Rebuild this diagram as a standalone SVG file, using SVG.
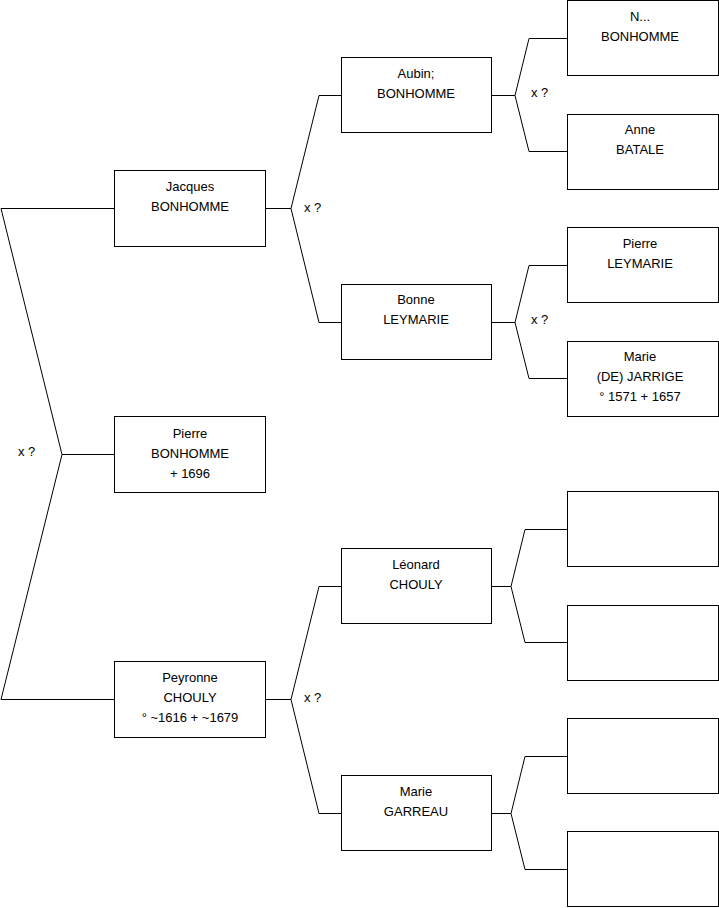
<svg xmlns="http://www.w3.org/2000/svg" width="719" height="908" viewBox="0 0 719 908">
<style>
.box{fill:#fff;stroke:#000;stroke-width:1}
.ln{fill:none;stroke:#000;stroke-width:1}
text{font-family:"Liberation Sans",Arial,sans-serif;font-size:13px;fill:#000}
.c{text-anchor:middle}
</style>
<rect width="719" height="908" fill="#fff"/>
<g id="connectors">
<polyline class="ln" points="114,208.5 1,208.5 62,454.5 1,699.5 114,699.5"/>
<line class="ln" x1="62" y1="454.5" x2="114" y2="454.5"/>
<polyline class="ln" points="341,95.5 319,95.5 291,208.5 319,322.5 341,322.5"/>
<line class="ln" x1="265" y1="208.5" x2="291" y2="208.5"/>
<polyline class="ln" points="341,586.5 319,586.5 291,699.5 319,813.5 341,813.5"/>
<line class="ln" x1="265" y1="699.5" x2="291" y2="699.5"/>
<polyline class="ln" points="567,38.5 529,38.5 515,95.5 529,151.5 567,151.5"/>
<line class="ln" x1="492" y1="95.5" x2="515" y2="95.5"/>
<polyline class="ln" points="567,265.5 529,265.5 515,322.5 529,378.5 567,378.5"/>
<line class="ln" x1="492" y1="322.5" x2="515" y2="322.5"/>
<polyline class="ln" points="567,529.5 525,529.5 511,586.5 525,642.5 567,642.5"/>
<line class="ln" x1="492" y1="586.5" x2="511" y2="586.5"/>
<polyline class="ln" points="567,756.5 525,756.5 511,813.5 525,869.5 567,869.5"/>
<line class="ln" x1="492" y1="813.5" x2="511" y2="813.5"/>
<text x="18" y="456">x ?</text>
<text x="304" y="212">x ?</text>
<text x="304" y="702">x ?</text>
<text x="531" y="97">x ?</text>
<text x="531" y="324">x ?</text>
</g>
<g id="jacques"><rect class="box" x="114.5" y="170.5" width="151" height="76"/><text class="c" x="190" y="191">Jacques</text><text class="c" x="190" y="211">BONHOMME</text></g>
<g id="pierre"><rect class="box" x="114.5" y="416.5" width="151" height="76"/><text class="c" x="190" y="438">Pierre</text><text class="c" x="190" y="458">BONHOMME</text><text class="c" x="190" y="478">+ 1696</text></g>
<g id="peyronne"><rect class="box" x="114.5" y="661.5" width="151" height="76"/><text class="c" x="190" y="682">Peyronne</text><text class="c" x="190" y="702">CHOULY</text><text class="c" x="190" y="722">° ~1616 + ~1679</text></g>
<g id="aubin"><rect class="box" x="341.5" y="57.5" width="150" height="75"/><text class="c" x="416" y="78">Aubin;</text><text class="c" x="416" y="98">BONHOMME</text></g>
<g id="bonne"><rect class="box" x="341.5" y="284.5" width="150" height="75"/><text class="c" x="416" y="304">Bonne</text><text class="c" x="416" y="324">LEYMARIE</text></g>
<g id="leonard"><rect class="box" x="341.5" y="548.5" width="150" height="75"/><text class="c" x="416" y="569">Léonard</text><text class="c" x="416" y="589">CHOULY</text></g>
<g id="marie-garreau"><rect class="box" x="341.5" y="775.5" width="150" height="75"/><text class="c" x="416" y="796">Marie</text><text class="c" x="416" y="816">GARREAU</text></g>
<g id="n-bonhomme"><rect class="box" x="567.5" y="0.5" width="151" height="75"/><text class="c" x="640" y="21">N...</text><text class="c" x="640" y="41">BONHOMME</text></g>
<g id="anne"><rect class="box" x="567.5" y="114.5" width="151" height="75"/><text class="c" x="640" y="134">Anne</text><text class="c" x="640" y="154">BATALE</text></g>
<g id="pierre-leymarie"><rect class="box" x="567.5" y="227.5" width="151" height="75"/><text class="c" x="640" y="248">Pierre</text><text class="c" x="640" y="268">LEYMARIE</text></g>
<g id="marie-jarrige"><rect class="box" x="567.5" y="341.5" width="151" height="75"/><text class="c" x="640" y="361">Marie</text><text class="c" x="640" y="381">(DE) JARRIGE</text><text class="c" x="640" y="401">° 1571 + 1657</text></g>
<g id="empty1"><rect class="box" x="567.5" y="491.5" width="151" height="75"/></g>
<g id="empty2"><rect class="box" x="567.5" y="605.5" width="151" height="75"/></g>
<g id="empty3"><rect class="box" x="567.5" y="718.5" width="151" height="75"/></g>
<g id="empty4"><rect class="box" x="567.5" y="831.5" width="151" height="75"/></g>
</svg>
